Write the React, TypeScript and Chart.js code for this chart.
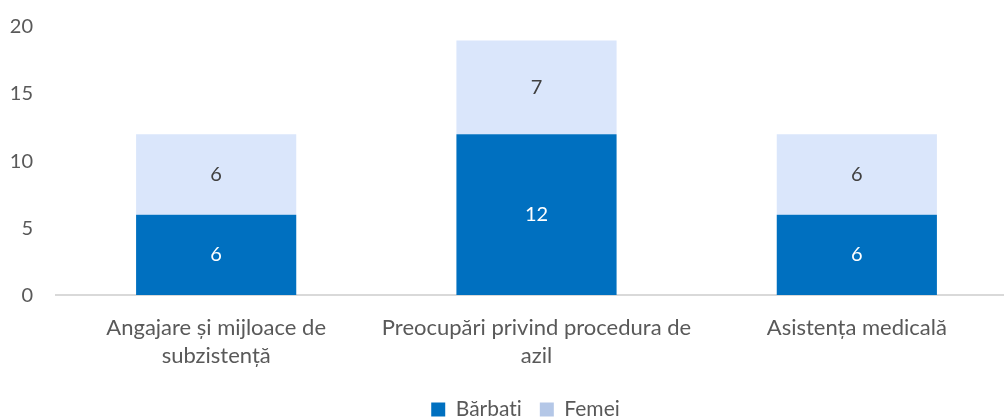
import React, { useEffect, useRef } from "react";
import { Chart, registerables } from "chart.js";

Chart.register(...registerables);

const categories: string[][] = [
  ["Angajare și mijloace de", "subzistență"],
  ["Preocupări privind procedura de", "azil"],
  ["Asistența medicală"],
];
const barbati = [6, 12, 6];
const femei = [6, 7, 6];
const yTicks = [0, 5, 10, 15, 20];

const FONT = "Lato, 'Open Sans', sans-serif";
const W = 1018;
const H = 438;

const valueLabels = {
  id: "valueLabels",
  afterDatasetsDraw(chart: any) {
    const ctx = chart.ctx;
    ctx.save();
    ctx.font = `20px ${FONT}`;
    ctx.textAlign = "center";
    ctx.textBaseline = "middle";
    chart.data.datasets.forEach((ds: any, di: number) => {
      const meta = chart.getDatasetMeta(di);
      meta.data.forEach((bar: any, i: number) => {
        const v = ds.data[i];
        const y = (bar.y + bar.base) / 2;
        ctx.fillStyle = di === 0 ? "#ffffff" : "#404040";
        ctx.fillText(String(v), bar.x, y);
      });
    });
    ctx.restore();
  },
};

const legendShift = {
  id: "legendShift",
  afterLayout(chart: any) {
    const lg = chart.legend;
    if (lg) {
      lg.left += 12;
      lg.right += 12;
    }
  },
};

export default function App() {
  const ref = useRef<HTMLCanvasElement | null>(null);
  useEffect(() => {
    if (!ref.current) return;
    const chart = new Chart(ref.current, {
      type: "bar",
      data: {
        labels: categories,
        datasets: [
          {
            label: "Bărbați",
            data: barbati,
            backgroundColor: "#0070C0",
            barPercentage: 0.5,
            categoryPercentage: 1,
          },
          {
            label: "Femei",
            data: femei,
            backgroundColor: "#DAE6FB",
            barPercentage: 0.5,
            categoryPercentage: 1,
          },
        ],
      },
      options: {
        responsive: false,
        animation: false,
        events: [],
        layout: { padding: { left: 10, right: 1, top: 6, bottom: 0 } },
        scales: {
          x: {
            stacked: true,
            grid: { display: false },
            border: { display: true, color: "#D9D9D9", width: 2 },
            ticks: {
              color: "#595959",
              font: { family: FONT, size: 22, lineHeight: 1.27 },
              padding: 11,
              maxRotation: 0,
              autoSkip: false,
            },
          },
          y: {
            stacked: true,
            min: 0,
            max: 20,
            afterBuildTicks: (axis: any) => {
              axis.ticks = yTicks.map((v) => ({ value: v }));
            },
            afterFit: (axis: any) => {
              axis.width = 46;
            },
            grid: { display: false, drawTicks: false },
            border: { display: false },
            ticks: {
              color: "#595959",
              font: { family: FONT, size: 20 },
              padding: 23,
            },
          },
        },
        plugins: {
          tooltip: { enabled: false },
          legend: {
            position: "bottom",
            labels: {
              color: "#595959",
              font: { family: FONT, size: 21 },
              boxWidth: 14,
              boxHeight: 14,
              padding: 18,
              generateLabels: (c: any) => {
                const items = Chart.defaults.plugins.legend.labels.generateLabels(c);
                return items.map((it: any, i: number) => ({
                  ...it,
                  fillStyle: i === 0 ? "#0070C0" : "#B4C7E7",
                  strokeStyle: "rgba(0,0,0,0)",
                  lineWidth: 0,
                }));
              },
            },
          },
        },
      },
      plugins: [valueLabels, legendShift],
    });
    return () => chart.destroy();
  }, []);
  return (
    <div style={{ position: "fixed", left: 0, top: -8, width: W, height: H, background: "#fff" }}>
      <canvas ref={ref} width={W} height={H} style={{ display: "block" }} />
    </div>
  );
}
